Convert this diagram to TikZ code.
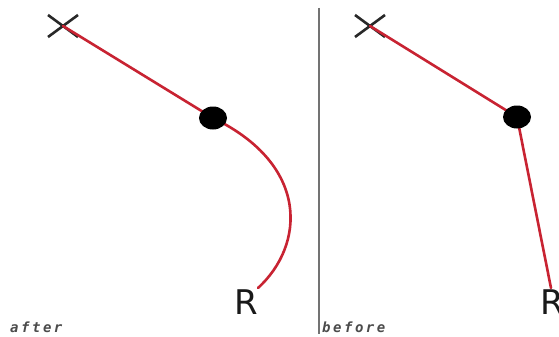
\documentclass[tikz,border=0pt]{standalone}
\usepackage{fontspec}
\usetikzlibrary{shapes.geometric}
\setmainfont{DejaVu Sans}
\newfontfamily\lblfont[LetterSpace=18]{DejaVu Sans Mono}
\begin{document}
\begin{tikzpicture}[x=1pt,y=-1pt,
  redline/.style={draw={rgb,255:red,200;green,35;blue,50}, line width=2.6pt, line cap=round},
  cross/.style={draw={rgb,255:red,40;green,40;blue,40}, line width=2.6pt},
  pivot/.style={ellipse, fill=black, minimum width=28pt, minimum height=23pt, inner sep=0pt},
  rlab/.style={font=\fontsize{34}{34}\selectfont, inner sep=0pt, text=black!90},
  caption/.style={font=\lblfont\bfseries\itshape\fontsize{14}{14}\selectfont, text=black!70, inner sep=0pt, anchor=west}]
\useasboundingbox[fill=white] (0,0) rectangle (559,337);
% divider
\draw[black!55, line width=1.3pt] (319,8) -- (319,334);
% ---- left (after) ----
\coordinate (xa) at (63,26);
\coordinate (pa) at (213,118);
\draw[cross] (48,15) -- (78,37) (48,37) -- (78,15);
\node[rlab] (ra) at (246,302) {R};
\coordinate (ea) at (258,288);
\draw[redline] (xa) -- (pa);
\draw[redline] (pa) .. controls (310,165) and (305,245) .. (ea);
\node[pivot] (da) at (pa) {};
\node[caption] (ta) at (10,327) {after};
% ---- right (before) ----
\coordinate (xb) at (370,26);
\coordinate (pb) at (517,117);
\draw[cross] (355,15) -- (385,37) (355,37) -- (385,15);
\node[rlab] (rb) at (552,302) {R};
\coordinate (eb) at (551,288);
\draw[redline] (xb) -- (pb);
\draw[redline] (pb) -- (eb);
\node[pivot] (db) at (pb) {};
\node[caption] (tb) at (322,327) {before};
\end{tikzpicture}
\end{document}
